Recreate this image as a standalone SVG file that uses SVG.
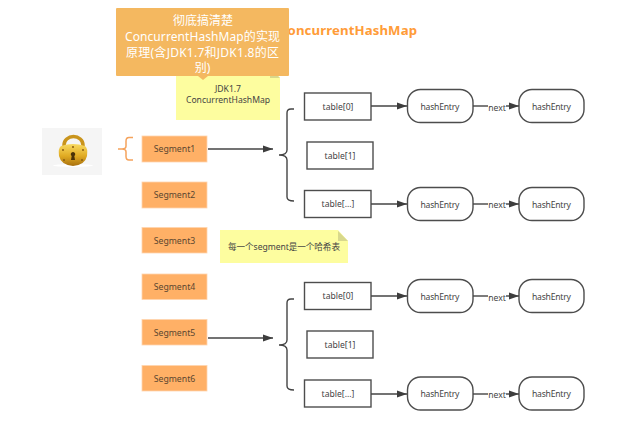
<svg xmlns="http://www.w3.org/2000/svg" width="617" height="422" viewBox="0 0 617 422">
<style>
text{font-family:"Noto Sans","Noto Sans CJK SC",sans-serif;text-anchor:middle}
.lbl{font-size:8.6px;fill:#444}
.seg rect{fill:#ffb066;stroke:#ffd5ae;stroke-width:.8}
.seg text{font-size:8.7px;fill:#5a4630}
.tbl rect{fill:#fff;stroke:#4d4d4d;stroke-width:1.4}
.he rect{fill:#fff;stroke:#4d4d4d;stroke-width:1.4}
.note polygon.b{fill:#fdfd9f}
.note polygon.f{fill:#d8d88c}
.ln{fill:none;stroke:#444;stroke-width:1.4}
</style>
<defs>
<marker id="a" markerWidth="11" markerHeight="8" refX="10" refY="4" orient="auto" markerUnits="userSpaceOnUse"><path d="M0 0.5L10 4L0 7.5z" fill="#3d3d3d"/></marker>
<linearGradient id="g" x1="0" y1="0" x2="0" y2="1"><stop offset="0" stop-color="#f8da62"/><stop offset=".55" stop-color="#e0aa22"/><stop offset="1" stop-color="#a8700f"/></linearGradient>
</defs>
<text id="title" x="417" y="35" style="text-anchor:end;font-size:13.200px;font-weight:700;fill:#ff9c38" textLength="138">ConcurrentHashMap</text>
<g id="note-jdk" class="note">
<polygon class="b" points="176,66 270,66 280,78 280,120 176,120"/>
<polygon class="f" points="270,68 280,78 270,78"/>
<text class="lbl" x="228" y="91.500">JDK1.7</text>
<text class="lbl" x="228" y="102.500">ConcurrentHashMap</text>
</g>
<g id="banner">
<rect x="116" y="8" width="173" height="68" rx="1" fill="#f4b860"/>
<polygon points="198,76 208,76 203,80" fill="#f4b860"/>
<g font-size="12" fill="#fff">
<text x="203" y="24.500">彻底搞清楚</text>
<text x="202.500" y="40.500" textLength="155">ConcurrentHashMap的实现</text>
<text x="202.500" y="56.500" textLength="153">原理(含JDK1.7和JDK1.8的区</text>
<text x="202.500" y="72">别)</text>
</g>
</g>
<g id="lock">
<rect x="42" y="128" width="60" height="47" fill="#f5f5f5"/>
<ellipse cx="73" cy="165.500" rx="20" ry="1.500" fill="#fff"/>
<path d="M64 148v-3a9.500 8.500 0 0 1 19 0v3" fill="none" stroke="#c9941c" stroke-width="3.500"/>
<path d="M61 146Q73 142 85 146Q88 148 87 156Q85 165 73 166Q61 165 59 156Q58 148 61 146z" fill="url(#g)"/>
<path d="M73 152a2.200 2.200 0 0 1 1.300 4l.7 4h-4l.7-4a2.200 2.200 0 0 1 1.300-4z" fill="#4a3208"/>
<g fill="#8a5d10"><circle cx="63" cy="150" r="1"/><circle cx="83" cy="150" r="1"/><circle cx="64" cy="160" r="1"/><circle cx="82" cy="160" r="1"/><circle cx="73" cy="147" r="1"/></g>
</g>
<g id="seg1" class="seg"><rect x="142" y="136" width="65" height="26"/><text x="174.500" y="152">Segment1</text></g>
<g id="seg2" class="seg"><rect x="142" y="182" width="65" height="26"/><text x="174.500" y="198">Segment2</text></g>
<g id="seg3" class="seg"><rect x="142" y="227.500" width="65" height="25.500"/><text x="174.500" y="243.500">Segment3</text></g>
<g id="seg4" class="seg"><rect x="142" y="274" width="65" height="25.500"/><text x="174.500" y="290">Segment4</text></g>
<g id="seg5" class="seg"><rect x="142" y="319.500" width="65" height="25.500"/><text x="174.500" y="335.500">Segment5</text></g>
<g id="seg6" class="seg"><rect x="142" y="365.500" width="65" height="25.500"/><text x="174.500" y="381.500">Segment6</text></g>
<g id="note-seg" class="note">
<polygon class="b" points="220,230 338,230 348,241 348,263 220,263"/>
<polygon class="f" points="338,231 348,241 338,241"/>
<text class="lbl" x="284" y="250" textLength="112">每一个segment是一个哈希表</text>
</g>
<g id="t00" class="tbl"><rect x="304.500" y="93" width="66.500" height="27"/><text class="lbl" x="338" y="109.500">table[0]</text></g>
<g id="t01" class="tbl"><rect x="307" y="142" width="66" height="27"/><text class="lbl" x="340" y="158.500">table[1]</text></g>
<g id="t02" class="tbl"><rect x="304.500" y="190.500" width="66.500" height="27"/><text class="lbl" x="338" y="207">table[...]</text></g>
<g id="t10" class="tbl"><rect x="304.500" y="282.500" width="66.500" height="27"/><text class="lbl" x="338" y="299">table[0]</text></g>
<g id="t11" class="tbl"><rect x="307" y="331" width="66" height="27"/><text class="lbl" x="340" y="347.500">table[1]</text></g>
<g id="t12" class="tbl"><rect x="304.500" y="380" width="66.500" height="27"/><text class="lbl" x="338" y="396.500">table[...]</text></g>
<g id="h00" class="he"><rect x="407.500" y="89.500" width="65.500" height="33" rx="13"/><text class="lbl" x="440" y="109.500" textLength="39">hashEntry</text></g>
<g id="h01" class="he"><rect x="519" y="89.500" width="65" height="33" rx="13"/><text class="lbl" x="551.500" y="109.500" textLength="39">hashEntry</text></g>
<g id="h02" class="he"><rect x="407.500" y="187.500" width="65.500" height="33" rx="13"/><text class="lbl" x="440" y="207.500" textLength="39">hashEntry</text></g>
<g id="h03" class="he"><rect x="519" y="187.500" width="65" height="33" rx="13"/><text class="lbl" x="551.500" y="207.500" textLength="39">hashEntry</text></g>
<g id="h10" class="he"><rect x="407.500" y="279.500" width="65.500" height="33" rx="13"/><text class="lbl" x="440" y="299.500" textLength="39">hashEntry</text></g>
<g id="h11" class="he"><rect x="519" y="279.500" width="65" height="33" rx="13"/><text class="lbl" x="551.500" y="299.500" textLength="39">hashEntry</text></g>
<g id="h12" class="he"><rect x="407.500" y="377" width="65.500" height="33" rx="13"/><text class="lbl" x="440" y="397" textLength="39">hashEntry</text></g>
<g id="h13" class="he"><rect x="519" y="377" width="65" height="33" rx="13"/><text class="lbl" x="551.500" y="397" textLength="39">hashEntry</text></g>
<g id="connectors">
<path d="M133 137.500H129Q126 137.500 126 141V146Q126 149 122 149H118M122 149Q126 149 126 152V156.500Q126 160 129 160H133" fill="none" stroke="#f5a35c" stroke-width="1.500"/>
<path class="ln" d="M294 109H291Q287 109 287 113V150Q287 155 279 155M279 155Q287 155 287 160V197Q287 201 294 201"/>
<path class="ln" d="M294 299H291Q287 299 287 303V340Q287 345 279 345M279 345Q287 345 287 350V386Q287 390 294 390"/>
<path class="ln" marker-end="url(#a)" d="M208 149H273"/>
<path class="ln" marker-end="url(#a)" d="M208 338H273"/>
<path class="ln" marker-end="url(#a)" d="M371 106H407"/>
<path class="ln" marker-end="url(#a)" d="M371 204H407"/>
<path class="ln" marker-end="url(#a)" d="M371 296H407"/>
<path class="ln" marker-end="url(#a)" d="M371 394H407"/>
<path class="ln" d="M473 106H488"/><path class="ln" marker-end="url(#a)" d="M506 106H519"/>
<path class="ln" d="M473 204H488"/><path class="ln" marker-end="url(#a)" d="M506 204H519"/>
<path class="ln" d="M473 296H488"/><path class="ln" marker-end="url(#a)" d="M506 296H519"/>
<path class="ln" d="M473 394H488"/><path class="ln" marker-end="url(#a)" d="M506 394H519"/>
<text class="lbl" x="497" y="110.500">next</text>
<text class="lbl" x="497" y="208">next</text>
<text class="lbl" x="497" y="300.500">next</text>
<text class="lbl" x="497" y="398">next</text>
</g>
</svg>
